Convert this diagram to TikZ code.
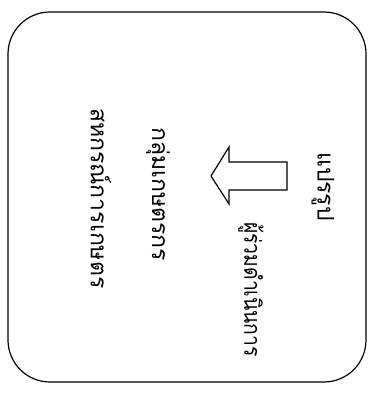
\documentclass[tikz,border=0pt]{standalone}
\usepackage{fontspec}
\newfontfamily\thaifont[Script=Thai]{Loma}
\begin{document}
\begin{tikzpicture}[x=1pt,y=1pt,
  lbl/.style={font=\thaifont\fontsize{23}{25}\selectfont, rotate=-90, anchor=west, inner sep=0pt},
  frame/.style={draw, line width=1.2pt, rounded corners=42pt},
  bigarrow/.style={draw, line width=1.2pt, fill=white}]
\useasboundingbox (0,0) rectangle (391,396);
\node[frame, minimum width=358pt, minimum height=370pt, inner sep=0pt] (box) at (187,199) {};
\draw[bigarrow] (287,234) -- (229,234) -- (229,249) -- (211,220) -- (229,192) -- (229,206) -- (287,206) -- cycle;
\node[lbl] (t1) at (323,244) {แปรรูป};
\node[lbl] (t2) at (251,174) {\scalebox{0.84}[1]{ผู้ร่วมดำเนินการ}};
\node[lbl] (t3) at (158,269) {กลุ่มเกษตรกร};
\node[lbl] (t4) at (101,288) {สหกรณ์การเกษตร};
\end{tikzpicture}
\end{document}
